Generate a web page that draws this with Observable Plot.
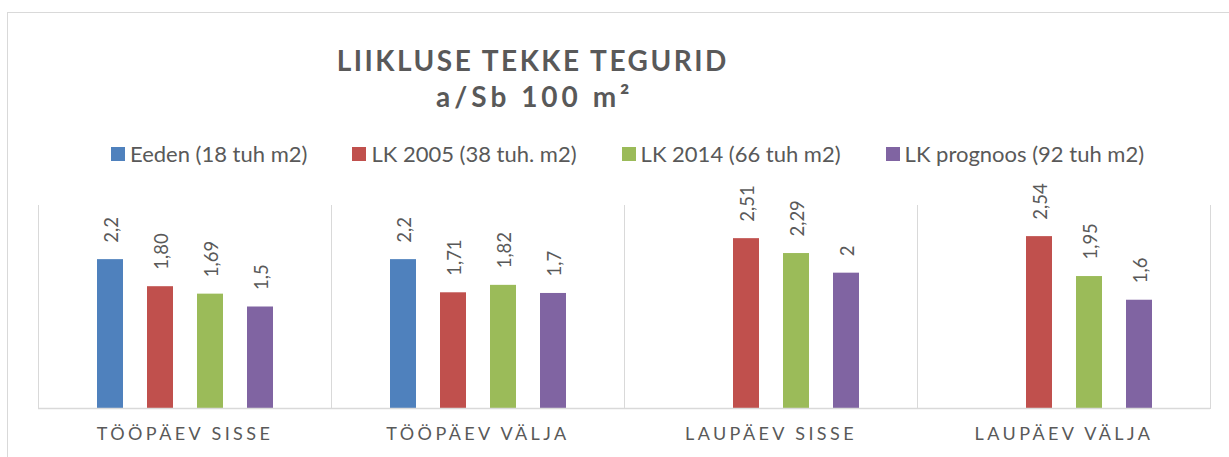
<!DOCTYPE html>
<html><head><meta charset="utf-8">
<script src="https://cdn.jsdelivr.net/npm/d3@7"></script>
<script src="https://cdn.jsdelivr.net/npm/@observablehq/plot@0.6"></script>
<style>
body{margin:0;background:#fff;font-family:Lato,"Open Sans",sans-serif;color:#595959;}
#wrap{position:relative;width:1229px;height:457px;overflow:hidden;}
#border{position:absolute;left:7px;top:12px;width:1300px;height:500px;border:1px solid #d9d9d9;box-sizing:border-box;}
#title{position:absolute;left:0;top:42px;width:1063px;text-align:center;font-weight:bold;font-size:28px;line-height:36px;letter-spacing:2.5px;padding-left:2.5px;box-sizing:border-box;}
#title .l2{letter-spacing:4px;padding-left:4px;}
#legend{position:absolute;left:0;top:141px;width:1255px;display:flex;justify-content:center;gap:45px;font-size:22px;line-height:26px;}
#legend .item{display:flex;align-items:center;white-space:nowrap;}
#legend .sw{width:14px;height:14px;margin-right:5px;display:inline-block;}
#chart{position:absolute;left:0;top:175px;}
g[aria-label="fx-axis tick label"]{letter-spacing:3.4px;}
</style></head>
<body>
<div id="wrap">
<div id="border"></div>
<div id="title">LIIKLUSE TEKKE TEGURID<br><span class="l2">a/Sb 100 m²</span></div>
<div id="legend"></div>
<div id="chart"></div>
</div>
<script>
const groups = ["TÖÖPÄEV SISSE", "TÖÖPÄEV VÄLJA", "LAUPÄEV SISSE", "LAUPÄEV VÄLJA"];
const series = ["Eeden (18 tuh m2)", "LK 2005 (38 tuh. m2)", "LK 2014 (66 tuh m2)", "LK prognoos (92 tuh m2)"];
const colors = ["#4f81bd", "#c0504d", "#9bbb59", "#8064a2"];
const eeden = [2.2, 2.2, null, null];
const lk2005 = [1.80, 1.71, 2.51, 2.54];
const lk2014 = [1.69, 1.82, 2.29, 1.95];
const lkPrognoos = [1.5, 1.7, 2, 1.6];
const eedenLabels = ["2,2", "2,2", null, null];
const lk2005Labels = ["1,80", "1,71", "2,51", "2,54"];
const lk2014Labels = ["1,69", "1,82", "2,29", "1,95"];
const lkPrognoosLabels = ["1,5", "1,7", "2", "1,6"];

const valueSets = [eeden, lk2005, lk2014, lkPrognoos];
const labelSets = [eedenLabels, lk2005Labels, lk2014Labels, lkPrognoosLabels];
const rows = [];
groups.forEach((g, gi) => {
  series.forEach((s, si) => {
    const v = valueSets[si][gi];
    if (v != null) rows.push({group: g, series: s, value: v, label: labelSets[si][gi]});
  });
});

const legend = document.getElementById("legend");
series.forEach((s, i) => {
  const it = document.createElement("div");
  it.className = "item";
  const sw = document.createElement("span");
  sw.className = "sw";
  sw.style.background = colors[i];
  it.appendChild(sw);
  it.appendChild(document.createTextNode(s));
  legend.appendChild(it);
});

const chart = Plot.plot({
  width: 1229,
  height: 282,
  marginLeft: 37,
  marginRight: 19,
  marginTop: 30,
  marginBottom: 49,
  style: {color: "#595959", fontFamily: "Lato, 'Open Sans', sans-serif", background: "transparent"},
  fx: {domain: groups, padding: 0, label: null, axis: null},
  x: {domain: series, paddingInner: 0.48, paddingOuter: 1.17, axis: null},
  y: {domain: [0, 3], axis: null},
  color: {domain: series, range: colors},
  marks: [
    Plot.frame({anchor: "left", stroke: "#d9d9d9"}),
    Plot.frame({anchor: "right", stroke: "#d9d9d9"}),
    Plot.barY(rows, {fx: "group", x: "series", y: "value", fill: "series"}),
    Plot.ruleY([0], {stroke: "#d9d9d9", strokeWidth: 1.5}),
    Plot.text(rows, {fx: "group", x: "series", y: "value", text: "label", rotate: -90, textAnchor: "start", lineAnchor: "middle", dy: -17, dx: 1.5, fontSize: 18.5, fill: "#595959"}),
    Plot.axisFx({anchor: "bottom", tickSize: 0, tickPadding: 19, fontSize: 18, label: null})
  ]
});
document.getElementById("chart").appendChild(chart);
</script>
</body></html>
